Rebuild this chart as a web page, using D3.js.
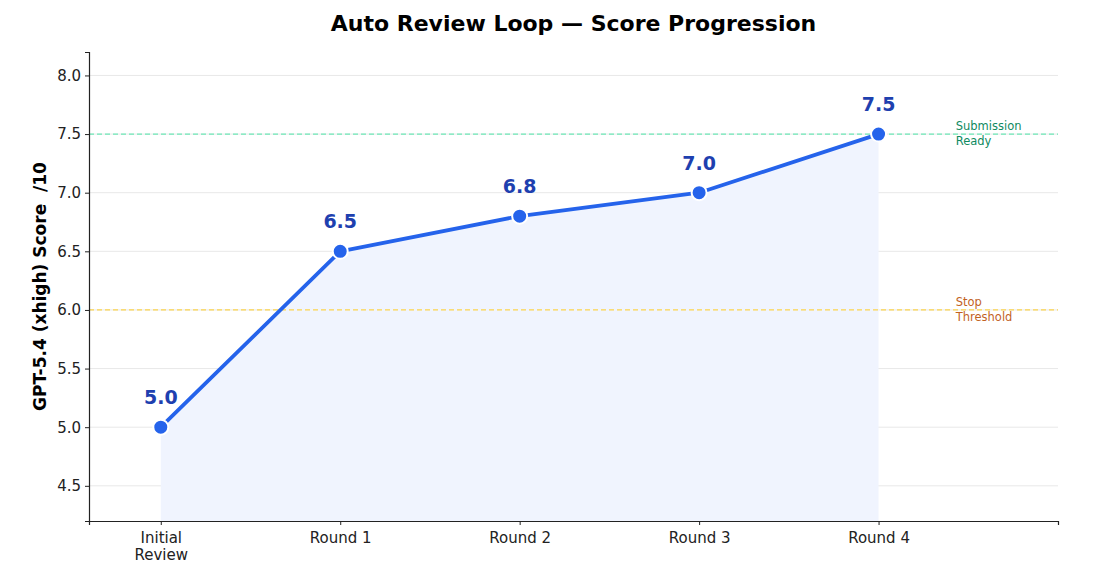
<!DOCTYPE html>
<html>
<head>
<meta charset="utf-8">
<script src="https://cdn.jsdelivr.net/npm/d3@7"></script>
<style>
  body { margin: 0; background: #fff; font-family: "DejaVu Sans", sans-serif; }
  svg text { font-family: "DejaVu Sans", sans-serif; }
</style>
</head>
<body>
<div id="wrapper"></div>
<script>
const rounds = ['Initial\nReview', 'Round 1', 'Round 2', 'Round 3', 'Round 4'];
const scores = [5.0, 6.5, 6.8, 7.0, 7.5];
const yTicks = [4.5, 5.0, 5.5, 6.0, 6.5, 7.0, 7.5, 8.0];
const thresholds = [
  { value: 7.5, label: ['Submission', 'Ready'], line: '#6ee7b7', text: '#0f8a5f' },
  { value: 6.0, label: ['Stop', 'Threshold'], line: '#fcd34d', text: '#c2621f' }
];

function drawChart() {
  const data = rounds.map((r, i) => ({ round: r, index: i, score: scores[i] }));

  let dimensions = {
    width: 1099,
    height: 571,
    margins: { top: 52, right: 41, bottom: 50, left: 89 }
  };
  dimensions.boundedWidth = dimensions.width - dimensions.margins.left - dimensions.margins.right;
  dimensions.boundedHeight = dimensions.height - dimensions.margins.top - dimensions.margins.bottom;

  const wrapper = d3.select('#wrapper')
    .append('svg')
      .attr('width', dimensions.width)
      .attr('height', dimensions.height);

  const bounds = wrapper.append('g')
      .attr('transform', `translate(${dimensions.margins.left},${dimensions.margins.top})`);

  const xScale = d3.scaleLinear()
    .domain([-0.4, 5.0])
    .range([0, dimensions.boundedWidth]);

  const yScale = d3.scaleLinear()
    .domain([4.2, 8.2])
    .range([dimensions.boundedHeight, 0]);

  // grid
  bounds.append('g')
    .selectAll('line')
    .data(yTicks)
    .join('line')
      .attr('x1', 0)
      .attr('x2', dimensions.boundedWidth)
      .attr('y1', d => yScale(d))
      .attr('y2', d => yScale(d))
      .attr('stroke', '#e8e8e8')
      .attr('stroke-width', 1);

  // filled area under line
  const areaGenerator = d3.area()
      .x(d => xScale(d.index))
      .y0(dimensions.boundedHeight)
      .y1(d => yScale(d.score));

  bounds.append('path')
      .attr('d', areaGenerator(data))
      .attr('fill', '#f0f4fe');

  // thresholds
  thresholds.forEach(t => {
    bounds.append('line')
        .attr('x1', 0)
        .attr('x2', dimensions.boundedWidth)
        .attr('y1', yScale(t.value))
        .attr('y2', yScale(t.value))
        .attr('stroke', t.line)
        .attr('stroke-width', 1.2)
        .attr('stroke-dasharray', '5,3');
    const txt = bounds.append('text')
        .attr('x', xScale(4.43))
        .attr('y', yScale(t.value) - 4)
        .attr('fill', t.text)
        .style('font-size', '11.5px');
    t.label.forEach((l, i) => {
      txt.append('tspan')
          .attr('x', xScale(4.43))
          .attr('dy', i === 0 ? 0 : 15)
          .text(l);
    });
  });

  // line
  const lineGenerator = d3.line()
      .x(d => xScale(d.index))
      .y(d => yScale(d.score));

  bounds.append('path')
      .attr('d', lineGenerator(data))
      .attr('fill', 'none')
      .attr('stroke', '#2563eb')
      .attr('stroke-width', 3.8)
      .attr('stroke-linejoin', 'round');

  bounds.selectAll('circle')
    .data(data)
    .join('circle')
      .attr('cx', d => xScale(d.index))
      .attr('cy', d => yScale(d.score))
      .attr('r', 7.5)
      .attr('fill', '#2563eb')
      .attr('stroke', '#fff')
      .attr('stroke-width', 2);

  bounds.selectAll('.value-label')
    .data(data)
    .join('text')
      .attr('class', 'value-label')
      .attr('x', d => xScale(d.index))
      .attr('y', d => yScale(d.score) - 23)
      .attr('text-anchor', 'middle')
      .attr('fill', '#1e40af')
      .style('font-size', '19px')
      .style('font-weight', 'bold')
      .text(d => d.score.toFixed(1));

  // axes
  const yAxis = bounds.append('g')
      .call(d3.axisLeft(yScale).tickValues(yTicks).tickFormat(d3.format('.1f')).tickSizeOuter(0).tickSize(4));
  yAxis.attr('font-family', null).attr('font-size', null);
  yAxis.selectAll('text').style('font-size', '15px').attr('fill', '#222').attr('x', -8);
  yAxis.select('.domain').attr('stroke', '#222').attr('stroke-width', 1.2);
  yAxis.selectAll('.tick line').attr('stroke', '#222');

  const xAxis = bounds.append('g')
      .attr('transform', `translate(0,${dimensions.boundedHeight})`)
      .call(d3.axisBottom(xScale).tickValues(data.map(d => d.index)).tickFormat(() => '').tickSizeOuter(0).tickSize(4));
  xAxis.attr('font-family', null).attr('font-size', null);
  xAxis.select('.domain').attr('stroke', '#222').attr('stroke-width', 1.2);
  xAxis.selectAll('.tick line').attr('stroke', '#222');
  xAxis.selectAll('.tick').each(function(d) {
    const t = d3.select(this).select('text')
        .style('font-size', '15px')
        .attr('fill', '#222')
        .attr('y', 11)
        .attr('dy', null);
    rounds[d].split('\n').forEach((l, i) => {
      t.append('tspan').attr('x', 0).attr('dy', i === 0 ? '0.71em' : '1.15em').text(l);
    });
  });

  // title
  wrapper.append('text')
      .attr('x', dimensions.margins.left + dimensions.boundedWidth / 2)
      .attr('y', 31)
      .attr('text-anchor', 'middle')
      .style('font-size', '22px')
      .style('font-weight', 'bold')
      .text('Auto Review Loop — Score Progression');

  // y label
  wrapper.append('text')
      .attr('transform', `translate(46,${dimensions.margins.top + dimensions.boundedHeight / 2}) rotate(-90)`)
      .attr('text-anchor', 'middle')
      .style('font-size', '17px')
      .style('font-weight', 'bold')
      .style('white-space', 'pre')
      .text('GPT-5.4 (xhigh) Score  /10');
}

drawChart();
</script>
</body>
</html>
